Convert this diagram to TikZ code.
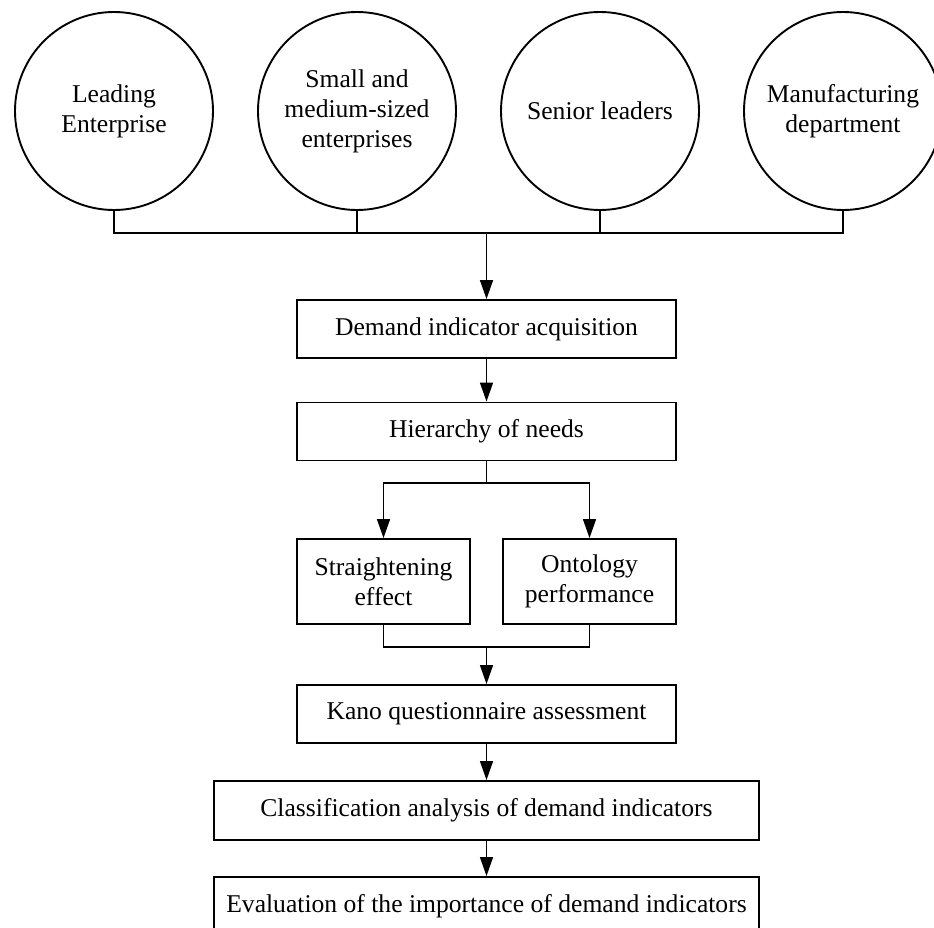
\documentclass[tikz,border=0pt]{standalone}
\usepackage{fontspec}
\setmainfont{Liberation Serif}
\usetikzlibrary{arrows.meta}
\begin{document}
\begin{tikzpicture}[x=1pt,y=-1pt,
  every node/.style={font=\fontsize{25.6}{30}\selectfont, align=center, inner sep=0pt},
  circ/.style={draw, circle, line width=1.9pt, minimum size=198pt},
  boxw/.style={draw, rectangle, line width=1.9pt, minimum width=379pt, minimum height=58pt},
  boxs/.style={draw, rectangle, line width=1.9pt, minimum width=173pt, minimum height=85pt},
  boxl/.style={draw, rectangle, line width=1.9pt, minimum width=545pt, minimum height=59pt},
  link/.style={line width=1.5pt},
  arr/.style={link, -{Triangle[length=19pt, width=13pt]}}]
\clip (0,0) rectangle (934,928);
\node[circ] (c1) at (114,111) {Leading\\Enterprise};
\node[circ] (c2) at (357,111) {Small and\\medium-sized\\enterprises};
\node[circ] (c3) at (600,111) {Senior leaders};
\node[circ] (c4) at (843,111) {Manufacturing\\department};
\coordinate (bus) at (486.5,233);
\node[boxw] (dem) at (486.5,329) {Demand indicator acquisition};
\node[boxw] (hier) at (486.5,431.5) {Hierarchy of needs};
\coordinate (split) at (486.5,483);
\node[boxs] (s1) at (383.5,581.5) {Straightening\\effect};
\node[boxs] (s2) at (589.5,581.5) {Ontology\\performance};
\coordinate (join) at (486.5,647);
\node[boxw] (kano) at (486.5,714) {Kano questionnaire assessment};
\node[boxl] (cls) at (486.5,810.5) {Classification analysis of demand indicators};
\node[boxl] (eva) at (486.5,906.5) {Evaluation of the importance of demand indicators};
\draw[link] (c1.south) |- (bus) -| (c4.south);
\draw[link] (c2.south) -- (c2.south |- bus);
\draw[link] (c3.south) -- (c3.south |- bus);
\draw[arr] (bus) -- (dem.north);
\draw[arr] (dem.south) -- (hier.north);
\draw[link] (hier.south) -- (split);
\draw[arr] (split) -| (s1.north);
\draw[arr] (split) -| (s2.north);
\draw[link] (s1.south) |- (join) -| (s2.south);
\draw[arr] (join) -- (kano.north);
\draw[arr] (kano.south) -- (cls.north);
\draw[arr] (cls.south) -- (eva.north);
\end{tikzpicture}
\end{document}
